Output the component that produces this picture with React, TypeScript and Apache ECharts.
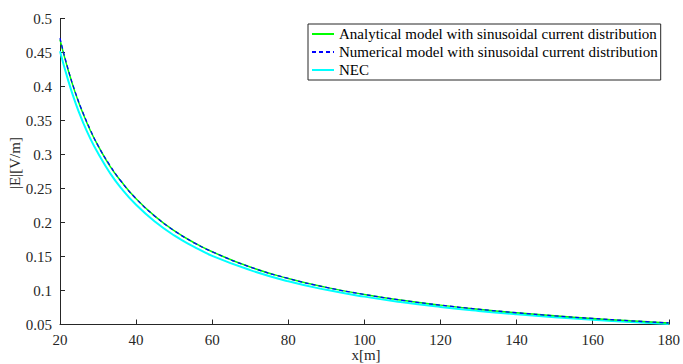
import React, { useEffect, useRef } from "react";
import * as echarts from "echarts";

const xValues = [20, 22, 24, 26, 28, 30, 33, 36, 40, 45, 50, 55, 60, 70, 80, 90, 100, 110, 120, 130, 140, 150, 160, 170, 180];
const analytical = [0.469, 0.427, 0.391, 0.361, 0.335, 0.313, 0.284, 0.261, 0.235, 0.209, 0.188, 0.171, 0.157, 0.1345, 0.1177, 0.1046, 0.0942, 0.0856, 0.0785, 0.0724, 0.0673, 0.0628, 0.0589, 0.0554, 0.0523];
const numerical = [0.471, 0.428, 0.392, 0.362, 0.336, 0.313, 0.285, 0.261, 0.235, 0.209, 0.188, 0.171, 0.157, 0.1345, 0.1177, 0.1046, 0.0942, 0.0856, 0.0785, 0.0725, 0.0673, 0.0628, 0.0589, 0.0554, 0.0524];
const nec = [0.452, 0.412, 0.377, 0.348, 0.323, 0.302, 0.274, 0.251, 0.226, 0.201, 0.181, 0.165, 0.151, 0.13, 0.1135, 0.101, 0.091, 0.0827, 0.0758, 0.07, 0.065, 0.0607, 0.057, 0.0537, 0.0507];
const seriesNames = [
  "Analytical model with sinusoidal current distribution",
  "Numerical model with sinusoidal current distribution",
  "NEC",
];

const FONT = "Liberation Serif";
const AXIS = "#262626";

function pairs(ys: number[]) {
  return xValues.map((x, i) => [x, ys[i]]);
}

export default function App() {
  const ref = useRef<HTMLDivElement>(null);
  useEffect(() => {
    document.body.style.margin = "0";
    const chart = echarts.init(ref.current!, null, { renderer: "svg" });
    chart.setOption({
      animation: false,
      backgroundColor: "#fff",
      textStyle: { fontFamily: FONT },
      grid: { left: 60, right: 11, top: 18.5, bottom: 39.5 },
      xAxis: {
        type: "value",
        min: 20,
        max: 180,
        interval: 20,
        axisLine: { show: true, lineStyle: { color: AXIS, width: 1 } },
        axisTick: { show: true, inside: true, length: 5, lineStyle: { color: AXIS } },
        splitLine: { show: false },
        axisLabel: { color: AXIS, fontFamily: FONT, fontSize: 15, margin: 8 },
      },
      yAxis: {
        type: "value",
        min: 0.05,
        max: 0.5,
        interval: 0.05,
        axisLine: { show: true, onZero: false, lineStyle: { color: AXIS, width: 1 } },
        axisTick: { show: true, inside: true, length: 5, lineStyle: { color: AXIS } },
        splitLine: { show: false },
        axisLabel: {
          color: AXIS,
          fontFamily: FONT,
          fontSize: 15,
          margin: 8,
          formatter: (v: number) => String(+v.toFixed(2)),
        },
      },
      legend: {
        orient: "vertical",
        left: 308,
        top: 24,
        itemWidth: 22,
        itemHeight: 14,
        itemGap: 2,
        padding: [2, 3, 2, 3],
        borderColor: AXIS,
        borderWidth: 1,
        backgroundColor: "#fff",
        itemStyle: { opacity: 0 },
        textStyle: { fontFamily: FONT, fontSize: 15, lineHeight: 16, color: "#000" },
        data: seriesNames,
      },
      graphic: [
        {
          type: "text",
          x: 15,
          y: 163,
          rotation: Math.PI / 2,
          style: {
            text: "|E|[V/m]",
            font: `15px ${FONT}`,
            fill: AXIS,
            textAlign: "center",
            textVerticalAlign: "middle",
          },
        },
        {
          type: "text",
          x: 366,
          y: 355,
          style: {
            text: "x[m]",
            font: `15px ${FONT}`,
            fill: AXIS,
            textAlign: "center",
            textVerticalAlign: "middle",
          },
        },
      ],
      series: [
        {
          name: seriesNames[2],
          type: "line",
          data: pairs(nec),
          symbol: "none",
          smooth: true,
          lineStyle: { color: "#00ffff", width: 2 },
          itemStyle: { color: "#00ffff" },
          z: 2,
        },
        {
          name: seriesNames[0],
          type: "line",
          data: pairs(analytical),
          symbol: "none",
          smooth: true,
          lineStyle: { color: "#00ff00", width: 1.5 },
          itemStyle: { color: "#00ff00" },
          z: 3,
        },
        {
          name: seriesNames[1],
          type: "line",
          data: pairs(numerical),
          symbol: "none",
          smooth: true,
          lineStyle: { color: "#0000ff", width: 1.3, type: [4, 3] },
          itemStyle: { color: "#0000ff" },
          z: 4,
        },
      ],
    });
    return () => chart.dispose();
  }, []);
  return (
    <div
      ref={ref}
      style={{ position: "fixed", left: 0, top: 0, width: 683, height: 364 }}
    />
  );
}
